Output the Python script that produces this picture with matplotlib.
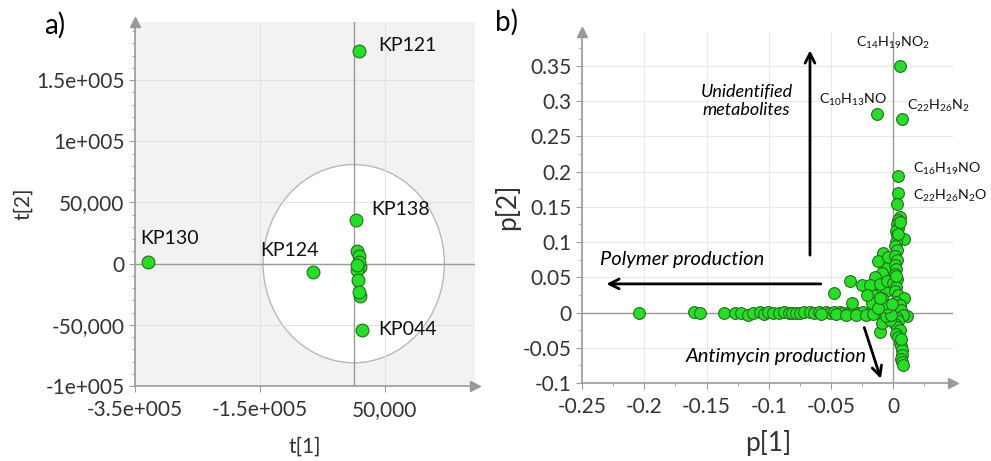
import matplotlib
matplotlib.use("Agg")
import matplotlib.pyplot as plt
from matplotlib import font_manager
from matplotlib.patches import Ellipse

# ---- data: score plot (a) ----
score_t1 = [8400, 3600, -329000, -65700, 13000,
            5700, 8900, 10000, 5700, 7300, 10000, 9000, 8000, 6000]
score_t2 = [173800, 36000, 1000, -6600, -54000,
            10650, 6500, -2500, -5200, -13100, -26200, -23000, 1000, -1000]
score_names = ["KP121", "KP138", "KP130", "KP124", "KP044"]
score_label_x = [38800, 27600, -342000, -150000, 38800]
score_label_y = [177900, 44300, 20500, 10650, -54100]
a_xticks = [-350000, -150000, 50000]
a_xticklabels = ["-3.5e+005", "-1.5e+005", "50,000"]
a_yticks = [-100000, -50000, 0, 50000, 100000, 150000]
a_yticklabels = ["-1e+005", "-50,000", "0", "50,000", "1e+005", "1.5e+005"]

# ---- data: loading plot (b) ----
load_p1 = [
    # horizontal branch
    -0.204, -0.160, -0.155, -0.136, -0.127, -0.122, -0.117, -0.113, -0.107, -0.104,
    -0.101, -0.097, -0.092, -0.088, -0.084, -0.081, -0.078, -0.075, -0.072, -0.067,
    -0.064, -0.060, -0.054, -0.051, -0.048, -0.043, -0.040, -0.036, -0.032, -0.028,
    -0.024, -0.019, -0.014, -0.009, -0.004, 0.000,
    -0.058, -0.046, -0.038, -0.030, -0.022, -0.016,
    # scattered
    -0.048, -0.035, -0.0255, -0.0335, -0.0107, -0.0093,
    # diagonal branch
    -0.008, -0.0067, -0.0107, -0.0134, -0.016, -0.0174, -0.0093, -0.0147, -0.0187,
    -0.0214, -0.012, -0.004, -0.006, -0.009, -0.011, -0.005,
    # stem
    0.004, 0.003, 0.0056, 0.004, 0.003, 0.004, 0.002, 0.003, 0.0083, 0.002,
    0.001, 0.003, 0.001, 0.003, 0.001, 0.002, 0.001, 0.003, 0.000, 0.002,
    0.001, 0.004, 0.0083, 0.002, 0.005, 0.000, 0.006, 0.0109, 0.008, 0.003,
    0.004, 0.001, 0.003, 0.005, 0.002, 0.004, 0.0056, 0.006, 0.007, 0.007,
    0.0065, 0.007, 0.008, 0.005, 0.004, 0.006, 0.002,
    # near origin
    -0.003, -0.006, -0.002, -0.005, -0.008, -0.012, -0.001, -0.011,
    # labelled
    0.005, -0.013, 0.007, 0.004,
]
load_p2 = [
    0.000, 0.001, -0.001, 0.000, -0.001, 0.000, -0.004, 0.000, 0.001, -0.002,
    0.001, -0.001, 0.000, 0.001, 0.000, -0.001, 0.000, 0.000, 0.001, 0.001,
    0.000, 0.001, 0.001, 0.000, 0.001, 0.001, 0.000, 0.000, 0.001, 0.000,
    0.001, 0.000, 0.001, 0.000, 0.000, 0.000,
    -0.002, -0.002, -0.003, -0.003, -0.003, -0.002,
    0.0275, 0.045, 0.039, 0.013, -0.028, -0.0145,
    0.085, 0.063, 0.0485, 0.034, 0.0245, 0.0135, 0.056, 0.050, 0.039,
    0.0255, 0.0725, 0.079, 0.030, 0.020, 0.040, 0.045,
    0.169, 0.154, 0.136, 0.131, 0.125, 0.120, 0.115, 0.110, 0.104, 0.100,
    0.094, 0.088, 0.080, 0.075, 0.068, 0.062, 0.055, 0.048, 0.042, 0.036,
    0.030, 0.025, 0.020, 0.015, 0.010, 0.006, 0.003, -0.005, -0.003, -0.008,
    -0.012, -0.016, -0.020, -0.025, -0.030, -0.035, -0.043, -0.048, -0.053, -0.060,
    -0.066, -0.070, -0.074, 0.128, 0.112, -0.038, 0.052,
    -0.010, -0.005, -0.004, 0.008, 0.012, 0.006, 0.012, 0.020,
    0.350, 0.281, 0.274, 0.194,
]
formula_labels = [r"$\mathregular{C_{14}H_{19}NO_2}$", r"$\mathregular{C_{10}H_{13}NO}$",
                  r"$\mathregular{C_{22}H_{26}N_2}$", r"$\mathregular{C_{16}H_{19}NO}$",
                  r"$\mathregular{C_{22}H_{26}N_2O}$"]
formula_x = [0.0, -0.005, 0.011, 0.016, 0.016]
formula_y = [0.382, 0.301, 0.293, 0.2035, 0.166]
formula_ha = ["center", "right", "left", "left", "left"]
b_xticks = [-0.25, -0.2, -0.15, -0.1, -0.05, 0]
b_xticklabels = ["-0.25", "-0.2", "-0.15", "-0.1", "-0.05", "0"]
b_yticks = [-0.1, -0.05, 0, 0.05, 0.1, 0.15, 0.2, 0.25, 0.3, 0.35]
b_yticklabels = ["-0.1", "-0.05", "0", "0.05", "0.1", "0.15", "0.2", "0.25", "0.3", "0.35"]

installed = {f.name for f in font_manager.fontManager.ttflist}
TEXT_FONT = "Lato" if "Lato" in installed else "DejaVu Sans"
plt.rcParams["font.family"] = [TEXT_FONT, "DejaVu Sans"]

GREEN = "#22e022"
EDGE = "#2a6a22"
AXIS_GRAY = "#9a9a9a"
TICK_COLOR = "#333333"


def style_axis(ax, grid_color):
    for side in ("top", "right"):
        ax.spines[side].set_visible(False)
    for side in ("left", "bottom"):
        ax.spines[side].set_color(AXIS_GRAY)
        ax.spines[side].set_linewidth(1.2)
    ax.tick_params(which="major", length=4, color=AXIS_GRAY, labelcolor=TICK_COLOR)
    ax.tick_params(axis="x", which="major", pad=6)
    ax.tick_params(which="minor", length=2.5, color=AXIS_GRAY)
    ax.grid(True, which="major", color=grid_color, linewidth=0.8)
    ax.set_axisbelow(True)
    ax.axhline(0, color=AXIS_GRAY, linewidth=1.0, zorder=0.8)
    ax.axvline(0, color=AXIS_GRAY, linewidth=1.0, zorder=0.8)
    # arrow heads at the ends of the axes
    ax.plot(0, 1, marker="^", ms=7, color=AXIS_GRAY, transform=ax.transAxes, clip_on=False)
    ax.plot(1, 0, marker=">", ms=7, color=AXIS_GRAY, transform=ax.transAxes, clip_on=False)


fig = plt.figure(figsize=(9.91, 4.61), dpi=100)

# ---------- a) score plot ----------
ax1 = fig.add_axes([0.1362, 0.1627, 0.3431, 0.7896])
ax1.set_facecolor("#f2f2f2")
ax1.set_xlim(-350000, 194000)
ax1.set_ylim(-100000, 197500)
ax1.add_patch(Ellipse((0, 0), 290000, 162000, facecolor="white",
                      edgecolor="#b8b8b8", linewidth=1.0, zorder=0.3))
ax1.scatter(score_t1, score_t2, s=85, color=GREEN, edgecolor=EDGE, linewidth=0.8, zorder=3)
for name, x, y in zip(score_names, score_label_x, score_label_y):
    ax1.text(x, y, name, fontsize=14, ha="left", va="center", color="#111111")
ax1.set_xticks(a_xticks, a_xticklabels, fontsize=15)
ax1.set_yticks(a_yticks, a_yticklabels, fontsize=15)
ax1.set_yticks(range(-100000, 197500, 10000), minor=True)
ax1.set_xlabel("t[1]", fontsize=15, color=TICK_COLOR)
ax1.set_ylabel("t[2]", fontsize=15, color=TICK_COLOR)
ax1.xaxis.set_label_coords(0.5, -0.14)
ax1.yaxis.set_label_coords(-0.3, 0.5)
style_axis(ax1, "#e2e2e2")
fig.text(0.045, 0.946, "a)", fontsize=20, va="center", ha="left")

# ---------- b) loading plot ----------
ax2 = fig.add_axes([0.5873, 0.1692, 0.3744, 0.7614])
ax2.set_facecolor("white")
ax2.set_xlim(-0.25, 0.048)
ax2.set_ylim(-0.1, 0.398)
ax2.scatter(load_p1, load_p2, s=72, color=GREEN, edgecolor=EDGE, linewidth=0.8, zorder=3)
for lab, x, y, ha in zip(formula_labels, formula_x, formula_y, formula_ha):
    ax2.text(x, y, lab, fontsize=10.3, ha=ha, va="center", color="#111111")

arrow_kw = dict(arrowstyle="->,head_width=0.35,head_length=0.7", color="black", lw=2)
ax2.annotate("", xy=(-0.0669, 0.376), xytext=(-0.0669, 0.0775), arrowprops=arrow_kw, zorder=4)
ax2.annotate("", xy=(-0.2327, 0.0406), xytext=(-0.056, 0.0406), arrowprops=arrow_kw, zorder=4)
ax2.annotate("", xy=(-0.0093, -0.0977), xytext=(-0.024, -0.0175), arrowprops=arrow_kw, zorder=4)
ax2.text(-0.118, 0.30, "Unidentified\nmetabolites", fontsize=13, style="italic",
         ha="center", va="center", linespacing=1.2)
ax2.text(-0.2354, 0.0747, "Polymer production", fontsize=14.5, style="italic",
         ha="left", va="center")
ax2.text(-0.0214, -0.063, "Antimycin production", fontsize=14.5, style="italic",
         ha="right", va="center")

ax2.set_xticks(b_xticks, b_xticklabels, fontsize=15)
ax2.set_yticks(b_yticks, b_yticklabels, fontsize=15)
ax2.set_xticks([-0.225, -0.175, -0.125, -0.075, -0.025, 0.025], minor=True)
ax2.set_yticks([-0.075, -0.025, 0.025, 0.075, 0.125, 0.175, 0.225, 0.275, 0.325, 0.375], minor=True)
ax2.set_xlabel("p[1]", fontsize=19, color=TICK_COLOR)
ax2.set_ylabel("p[2]", fontsize=19, color=TICK_COLOR)
ax2.xaxis.set_label_coords(0.501, -0.134)
ax2.yaxis.set_label_coords(-0.167, 0.501)
style_axis(ax2, "#e8e8e8")
fig.text(0.499, 0.952, "b)", fontsize=20, va="center", ha="left")

fig.savefig("out.png", dpi=100)
